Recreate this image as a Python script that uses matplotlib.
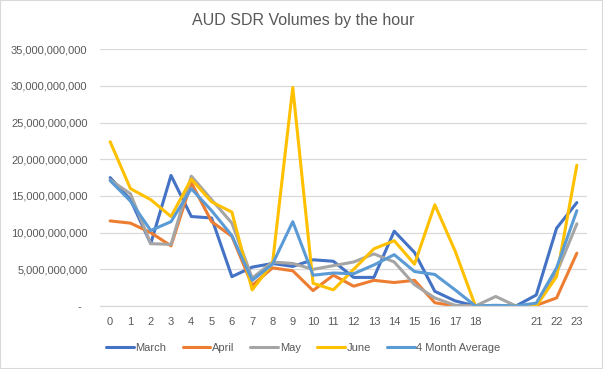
import matplotlib
matplotlib.use("Agg")
import matplotlib.pyplot as plt
from matplotlib.ticker import FuncFormatter, MultipleLocator
from matplotlib.patches import Rectangle

plt.rcParams['font.family'] = ['Liberation Sans', 'DejaVu Sans']

# ======================== 数据（单位：十亿） ========================
hours = list(range(24))
hour_labels = [str(h) for h in hours]
hour_labels[19] = ''
hour_labels[20] = ''

march = [17.5, 14.5, 8.5, 17.8, 12.2, 12.0, 4.0, 5.3, 5.8, 5.4, 6.3, 6.1, 3.9, 3.9,
         10.2, 7.3, 2.0, 0.7, 0.0, 0.0, 0.0, 1.5, 10.6, 14.1]
april = [11.6, 11.3, 10.0, 8.2, 16.8, 11.5, 9.5, 2.8, 5.2, 4.8, 2.1, 4.2, 2.7, 3.5,
         3.2, 3.5, 0.45, 0.0, 0.0, 0.0, 0.0, 0.1, 1.1, 7.2]
may = [17.2, 15.3, 8.5, 8.4, 17.7, 14.5, 11.3, 3.8, 6.0, 5.8, 5.0, 5.5, 6.0, 7.1,
       6.0, 2.9, 1.1, 0.1, 0.0, 1.3, 0.0, 0.2, 4.5, 11.2]
june = [22.4, 16.0, 14.5, 12.2, 17.3, 14.2, 12.8, 2.2, 5.8, 29.8, 3.1, 2.2, 5.0, 7.8,
        8.9, 5.7, 13.8, 7.5, 0.0, 0.0, 0.0, 0.0, 4.0, 19.2]
avg4 = [17.1, 14.3, 10.3, 11.5, 16.0, 13.0, 9.6, 3.5, 5.7, 11.5, 4.2, 4.5, 4.4, 5.6,
        7.0, 4.7, 4.3, 2.2, 0.0, 0.1, 0.0, 0.4, 5.2, 13.0]

series = [
    ('March', march, '#4472C4'),
    ('April', april, '#ED7D31'),
    ('May', may, '#A5A5A5'),
    ('June', june, '#FFC000'),
    ('4 Month Average', avg4, '#5B9BD5'),
]

# ======================== 绘图 ========================
fig = plt.figure(figsize=(6.03, 3.69), dpi=100)
ax = fig.add_axes([100 / 603, 1 - 306 / 369, 487 / 603, (306 - 49.3) / 369])

for name, vals, color in series:
    ax.plot(hours, [v * 1e9 for v in vals], color=color, lw=2.2, label=name,
            solid_joinstyle='round', solid_capstyle='round')

ax.set_xlim(-0.5, 23.5)
ax.set_ylim(0, 35e9)
ax.yaxis.set_major_locator(MultipleLocator(5e9))
ax.yaxis.set_major_formatter(FuncFormatter(lambda v, p: '-  ' if v == 0 else f'{v:,.0f}'))
ax.set_xticks(hours)
ax.set_xticklabels(hour_labels)

ax.grid(axis='y', color='#D9D9D9', lw=0.9)
ax.set_axisbelow(True)
for s in ['top', 'right', 'left']:
    ax.spines[s].set_visible(False)
ax.spines['bottom'].set_color('#D9D9D9')
ax.spines['bottom'].set_linewidth(0.9)
ax.tick_params(length=0, labelsize=8, colors='#595959')
ax.tick_params(axis='y', pad=9)
ax.tick_params(axis='x', pad=8)

fig.text(0.503, 1 - 20 / 369, 'AUD SDR Volumes by the hour', ha='center', va='center',
         fontsize=11.5, color='#595959')

fig.legend(loc='center', bbox_to_anchor=(0.503, 1 - 348 / 369), ncol=5, frameon=False,
           fontsize=8, handlelength=2.5, handletextpad=0.15, columnspacing=1.45,
           labelcolor='#595959')

fig.patches.append(Rectangle((0, 0), 1, 1, transform=fig.transFigure, fill=False,
                             edgecolor='#D9D9D9', lw=1.5))

fig.savefig('out.png', dpi=100)
